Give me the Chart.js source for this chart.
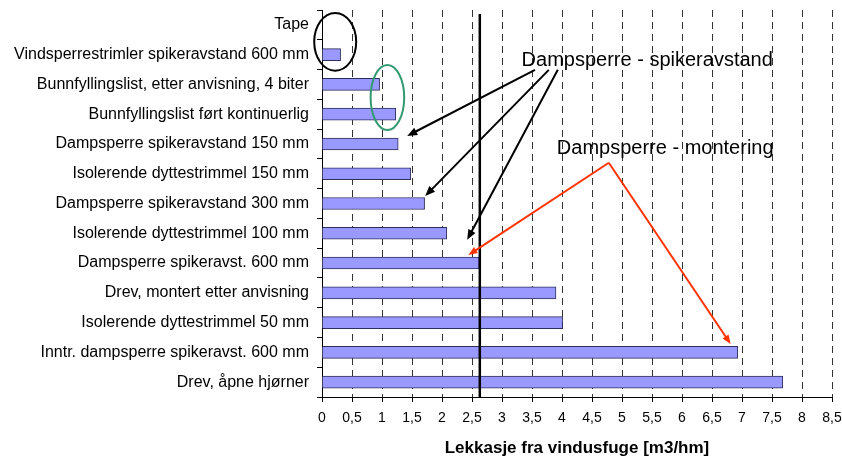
<!DOCTYPE html>
<html>
<head>
<meta charset="utf-8">
<script src="https://cdn.jsdelivr.net/npm/chart.js@4"></script>
<style>
html, body { margin: 0; padding: 0; background: #fff; }
#wrap { width: 842px; height: 459px; }
</style>
</head>
<body>
<div id="wrap"><canvas id="lekkasjeChart"></canvas></div>
<script>
const kategorier = [
    'Tape',
    'Vindsperrestrimler spikeravstand 600 mm',
    'Bunnfyllingslist, etter anvisning, 4 biter',
    'Bunnfyllingslist ført kontinuerlig',
    'Dampsperre spikeravstand 150 mm',
    'Isolerende dyttestrimmel 150 mm',
    'Dampsperre spikeravstand 300 mm',
    'Isolerende dyttestrimmel 100 mm',
    'Dampsperre spikeravst. 600 mm',
    'Drev, montert etter anvisning',
    'Isolerende dyttestrimmel 50 mm',
    'Inntr. dampsperre spikeravst. 600 mm',
    'Drev, åpne hjørner'
]
const lekkasje = [0, 0.31, 0.96, 1.23, 1.27, 1.48, 1.71, 2.08, 2.62, 3.9, 4.01, 6.93, 7.68]
const xTickLabels = ['0', '0,5', '1', '1,5', '2', '2,5', '3', '3,5', '4', '4,5', '5', '5,5', '6', '6,5', '7', '7,5', '8', '8,5']
const referanse = 2.63

// annotation anchors in axis units (x = m3/hm, y = category index)
const spikerTekst = { text: 'Dampsperre - spikeravstand', x: 5.42, y: 1.18 }
const spikerPiler = [[3.55, 1.51, 1.42, 3.73], [3.78, 1.51, 1.72, 5.75], [3.93, 1.51, 2.42, 7.22]]
const monteringTekst = { text: 'Dampsperre - montering', x: 5.72, y: 4.14 }
const monteringPiler = [[4.78, 4.63, 2.44, 7.73], [4.78, 4.63, 6.81, 10.72]]
const ringer = [
    { x: 0.22, y: 0.57, rx: 0.35, ry: 0.97, color: '#000000' },
    { x: 1.09, y: 2.44, rx: 0.28, ry: 1.09, color: '#339970' }
]

const FONT = "'Liberation Sans', Arial, sans-serif"

function pil(ctx, x1, y1, x2, y2, farge, bredde, hode) {
    const a = Math.atan2(y2 - y1, x2 - x1)
    ctx.save()
    ctx.strokeStyle = farge
    ctx.fillStyle = farge
    ctx.lineWidth = bredde
    ctx.beginPath()
    ctx.moveTo(x1, y1)
    ctx.lineTo(x2 - Math.cos(a) * hode * 0.8, y2 - Math.sin(a) * hode * 0.8)
    ctx.stroke()
    ctx.beginPath()
    ctx.moveTo(x2, y2)
    ctx.lineTo(x2 - hode * Math.cos(a) + hode * 0.4 * Math.sin(a), y2 - hode * Math.sin(a) - hode * 0.4 * Math.cos(a))
    ctx.lineTo(x2 - hode * Math.cos(a) - hode * 0.4 * Math.sin(a), y2 - hode * Math.sin(a) + hode * 0.4 * Math.cos(a))
    ctx.closePath()
    ctx.fill()
    ctx.restore()
}

const merknader = {
    id: 'merknader',
    afterDatasetsDraw(chart) {
        const ctx = chart.ctx
        const xs = chart.scales.x
        const ys = chart.scales.y
        const area = chart.chartArea
        const px = v => xs.getPixelForValue(v)
        const py = v => ys.getPixelForValue(v)

        // reference line
        ctx.save()
        ctx.strokeStyle = '#000'
        ctx.lineWidth = 2.5
        ctx.beginPath()
        ctx.moveTo(px(referanse), area.top + 4)
        ctx.lineTo(px(referanse), area.bottom)
        ctx.stroke()
        ctx.restore()

        ringer.forEach(r => {
            ctx.save()
            ctx.strokeStyle = r.color
            ctx.lineWidth = 2
            ctx.beginPath()
            ctx.ellipse(px(r.x), py(r.y), px(r.x + r.rx) - px(r.x), py(r.y + r.ry) - py(r.y), 0, 0, Math.PI * 2)
            ctx.stroke()
            ctx.restore()
        })

        ctx.save()
        ctx.font = '20px ' + FONT
        ctx.fillStyle = '#000'
        ctx.textAlign = 'center'
        ctx.textBaseline = 'middle'
        ctx.fillText(spikerTekst.text, px(spikerTekst.x), py(spikerTekst.y))
        ctx.fillText(monteringTekst.text, px(monteringTekst.x), py(monteringTekst.y))
        ctx.restore()

        spikerPiler.forEach(p => pil(ctx, px(p[0]), py(p[1]), px(p[2]), py(p[3]), '#000', 2, 10))
        monteringPiler.forEach(p => pil(ctx, px(p[0]), py(p[1]), px(p[2]), py(p[3]), '#ff3300', 2, 9))
    }
}

const lekkasjeChart = new Chart(
    document.getElementById('lekkasjeChart'),
    {
        type: 'bar',
        data: {
            labels: kategorier,
            datasets: [{
                label: 'Lekkasje',
                data: lekkasje,
                backgroundColor: '#9999ff',
                borderColor: '#2e2e5c',
                borderWidth: 1,
                borderSkipped: 'start',
                barThickness: 12
            }]
        },
        options: {
            indexAxis: 'y',
            responsive: true,
            maintainAspectRatio: false,
            animation: false,
            layout: { padding: { top: 10, right: 10, left: 0, bottom: 0 } },
            plugins: {
                legend: { display: false },
                tooltip: { enabled: false }
            },
            scales: {
                x: {
                    min: 0,
                    max: 8.5,
                    ticks: {
                        stepSize: 0.5,
                        color: '#000',
                        padding: 8,
                        maxRotation: 0,
                        autoSkip: false,
                        font: { family: FONT, size: 14 },
                        callback: (v, i) => xTickLabels[i]
                    },
                    grid: {
                        color: '#333',
                        lineWidth: 1,
                        tickLength: 5,
                        tickColor: '#000'
                    },
                    border: { color: '#000', width: 1, dash: [7, 5] },
                    title: {
                        display: true,
                        text: 'Lekkasje fra vindusfuge [m3/hm]',
                        color: '#000',
                        font: { family: FONT, size: 17, weight: 'bold' },
                        padding: { top: 0, bottom: 0 }
                    },
                    afterFit: s => {
                        s.height = 62
                        s.paddingLeft = 0
                        s.paddingRight = 0
                    }
                },
                y: {
                    ticks: {
                        color: '#000',
                        padding: 8,
                        autoSkip: false,
                        font: { family: FONT, size: 16 }
                    },
                    grid: {
                        drawOnChartArea: false,
                        tickLength: 5,
                        tickColor: '#000'
                    },
                    border: { color: '#000', width: 1 },
                    afterFit: s => {
                        s.width = 322
                        s.paddingTop = 0
                        s.paddingBottom = 0
                    }
                }
            }
        },
        plugins: [merknader]
    }
)
</script>
</body>
</html>
